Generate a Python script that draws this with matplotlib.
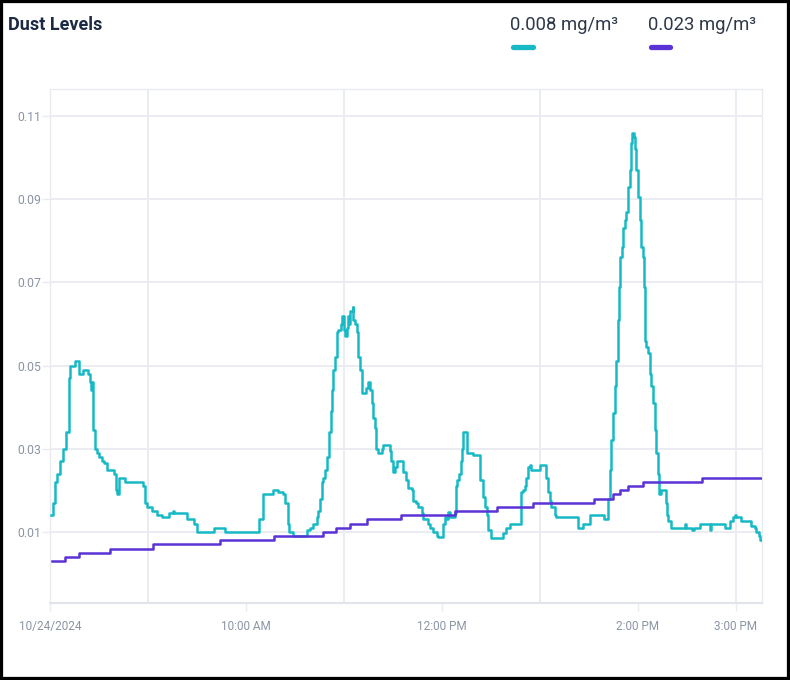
import matplotlib
matplotlib.use("Agg")
import matplotlib.pyplot as plt
from matplotlib.lines import Line2D
from matplotlib.patches import Rectangle

# minutes after 8:00 AM on 10/24/2024
dust_min = [0.6, 2.0, 3.1, 4.1, 6.1, 8.1, 9.6, 11.8, 12.2, 15.3,
            17.9, 20.4, 23.4, 24.5, 24.9, 25.5, 26.5, 27.5, 28.6, 30.2,
            31.6, 33.0, 34.7, 39.2, 40.4, 41.2, 42.4, 45.9, 56.7, 58.1,
            59.2, 62.2, 65.7, 68.4, 73.0, 75.1, 75.9, 83.7, 88.1, 89.8,
            100.4, 107.3, 128.1, 130.5, 136.7, 139.7, 142.8, 143.8, 145.8, 146.5,
            148.9, 157.1, 159.1, 161.1, 163.2, 164.2, 165.2, 166.3, 167.3, 168.3,
            169.7, 170.9, 171.8, 172.4, 173.4, 174.4, 175.5, 176.4, 177.9, 179.1,
            179.9, 180.5, 181.6, 182.6, 183.2, 184.0, 185.3, 185.6, 186.7, 187.7,
            188.7, 189.7, 190.8, 193.8, 194.8, 195.8, 196.9, 197.9, 198.9, 199.9,
            200.9, 203.0, 204.0, 208.1, 209.1, 210.1, 211.1, 212.2, 216.2, 218.3,
            219.3, 221.4, 222.3, 224.4, 225.4, 227.5, 228.5, 231.5, 232.6, 234.6,
            236.7, 237.6, 240.7, 241.7, 242.8, 243.8, 244.8, 247.9, 248.5, 249.3,
            250.5, 251.4, 252.0, 253.0, 255.1, 259.1, 263.2, 263.6, 265.2, 266.2,
            267.3, 268.2, 270.3, 277.4, 279.5, 281.5, 288.7, 289.7, 290.7, 291.7,
            292.7, 293.8, 294.8, 299.9, 303.6, 305.0, 306.0, 307.0, 309.1, 310.1,
            323.3, 326.4, 330.5, 339.0, 341.7, 342.7, 343.8, 344.7, 345.8, 346.8,
            347.8, 348.4, 349.3, 350.3, 350.9, 352.3, 352.9, 353.9, 355.0, 356.0,
            356.6, 357.4, 358.0, 359.1, 360.1, 361.1, 362.1, 363.1, 363.5, 364.1,
            365.2, 366.2, 367.2, 368.2, 369.2, 370.3, 371.3, 372.3, 372.9, 374.3,
            377.0, 377.8, 378.4, 380.5, 388.6, 389.6, 393.3, 394.1, 398.2, 403.9,
            405.0, 413.1, 416.2, 418.2, 419.2, 420.2, 423.3, 429.4, 431.5, 432.5,
            434.1, 435.0, 436.0]
dust_val = [0.014, 0.017, 0.022, 0.024, 0.027, 0.030, 0.034, 0.047, 0.050, 0.051,
            0.048, 0.049, 0.048, 0.046, 0.044, 0.046, 0.0345, 0.030, 0.029, 0.028,
            0.027, 0.0265, 0.025, 0.024, 0.020, 0.019, 0.023, 0.022, 0.021, 0.017,
            0.016, 0.015, 0.014, 0.0135, 0.0145, 0.015, 0.0145, 0.013, 0.012, 0.010,
            0.011, 0.010, 0.013, 0.019, 0.020, 0.0195, 0.019, 0.017, 0.012, 0.010,
            0.009, 0.0105, 0.011, 0.012, 0.0135, 0.015, 0.018, 0.022, 0.023, 0.025,
            0.028, 0.034, 0.039, 0.044, 0.049, 0.052, 0.058, 0.0585, 0.060, 0.062,
            0.0585, 0.057, 0.059, 0.062, 0.060, 0.063, 0.064, 0.061, 0.060, 0.058,
            0.052, 0.049, 0.0435, 0.0445, 0.046, 0.044, 0.041, 0.0375, 0.035, 0.030,
            0.029, 0.030, 0.031, 0.0295, 0.027, 0.0245, 0.0255, 0.027, 0.0245, 0.0225,
            0.0205, 0.020, 0.0175, 0.017, 0.016, 0.0145, 0.013, 0.012, 0.011, 0.010,
            0.009, 0.0088, 0.012, 0.0135, 0.013, 0.0148, 0.0135, 0.0145, 0.021, 0.0225,
            0.024, 0.027, 0.030, 0.034, 0.029, 0.0285, 0.0265, 0.0225, 0.0185, 0.016,
            0.014, 0.0105, 0.0085, 0.0098, 0.011, 0.012, 0.0195, 0.020, 0.021, 0.023,
            0.0255, 0.026, 0.025, 0.026, 0.023, 0.0195, 0.0175, 0.016, 0.014, 0.0135,
            0.011, 0.012, 0.014, 0.013, 0.018, 0.025, 0.032, 0.0385, 0.045, 0.051,
            0.061, 0.069, 0.076, 0.0785, 0.083, 0.085, 0.087, 0.093, 0.097, 0.1035,
            0.106, 0.105, 0.102, 0.097, 0.0905, 0.085, 0.0785, 0.076, 0.069, 0.056,
            0.0545, 0.053, 0.048, 0.045, 0.041, 0.0345, 0.029, 0.024, 0.019, 0.020,
            0.017, 0.014, 0.0125, 0.011, 0.012, 0.011, 0.0105, 0.011, 0.012, 0.0105,
            0.012, 0.011, 0.0125, 0.0135, 0.014, 0.0135, 0.0125, 0.0115, 0.011, 0.010,
            0.009, 0.008, 0.008]

avg_min = [1, 9, 18, 37, 63, 104, 137, 167, 175, 184, 194, 215, 248, 274, 296,
           333, 345, 349, 354, 363, 399, 436]
avg_val = [0.003, 0.004, 0.005, 0.006, 0.007, 0.008, 0.009, 0.010, 0.011, 0.012,
           0.013, 0.014, 0.015, 0.016, 0.017, 0.018, 0.019, 0.020, 0.021, 0.022,
           0.023, 0.023]

legend_labels = ["0.008 mg/m³", "0.023 mg/m³"]
y_ticks = [0.01, 0.03, 0.05, 0.07, 0.09, 0.11]
x_ticks = [0, 120, 240, 360, 420]
x_labels = ["10/24/2024", "10:00 AM", "12:00 PM", "2:00 PM", "3:00 PM"]
x_grid = [60, 180, 300, 420]

teal = "#17b9c5"
purple = "#5a32d5"
grid_c = "#e9ebf0"
tick_c = "#8b94a5"

plt.rcParams["font.family"] = ["Roboto", "DejaVu Sans"]

fig = plt.figure(figsize=(7.9, 6.8), dpi=100)
ax = fig.add_axes([50 / 790, 1 - 603 / 680, 712 / 790, 514 / 680])

ax.step(dust_min, dust_val, where="post", color=teal, lw=1.8, zorder=3)
ax.step(avg_min, avg_val, where="post", color=purple, lw=1.8, zorder=3)

ax.set_xlim(0, 436)
ax.set_ylim(-0.0071, 0.1165)

ax.set_yticks(y_ticks)
ax.set_yticklabels([f"{v:.2f}" for v in y_ticks])
ax.set_xticks(x_ticks)
ax.set_xticklabels(x_labels)
ax.tick_params(axis="y", length=5.5, width=1, color=grid_c, labelcolor=tick_c,
               labelsize=8.8, pad=0.5)
ax.tick_params(axis="x", length=6, width=1, color=grid_c, labelcolor=tick_c,
               labelsize=8.5, pad=6)

for v in y_ticks:
    ax.axhline(v, color=grid_c, lw=1.3, zorder=1)
for m in x_grid:
    ax.axvline(m, color=grid_c, lw=1.3, zorder=1)

for side in ["left", "right", "top"]:
    ax.spines[side].set_color(grid_c)
    ax.spines[side].set_linewidth(1.0)
ax.spines["bottom"].set_color("#e1e4ea")
ax.spines["bottom"].set_linewidth(1.6)

fig.text(8 / 790, 1 - 25 / 680, "Dust Levels", fontsize=13, fontweight="bold",
         color="#1b2a42", va="center", ha="left")

for x0, x1, lab, col in [(510, 535, legend_labels[0], teal),
                         (648, 672, legend_labels[1], purple)]:
    fig.text(x0 / 790, 1 - 25 / 680, lab, fontsize=13.3, color="#2e3848",
             va="center", ha="left")
    fig.add_artist(Line2D([(x0 + 2.5) / 790, (x1 - 2.5) / 790], [1 - 47 / 680] * 2,
                          transform=fig.transFigure, color=col, lw=3.8,
                          solid_capstyle="round"))

fig.add_artist(Rectangle((0, 0), 1, 1, transform=fig.transFigure, fill=False,
                         edgecolor="black", lw=4.5))

fig.savefig("out.png", dpi=100)
